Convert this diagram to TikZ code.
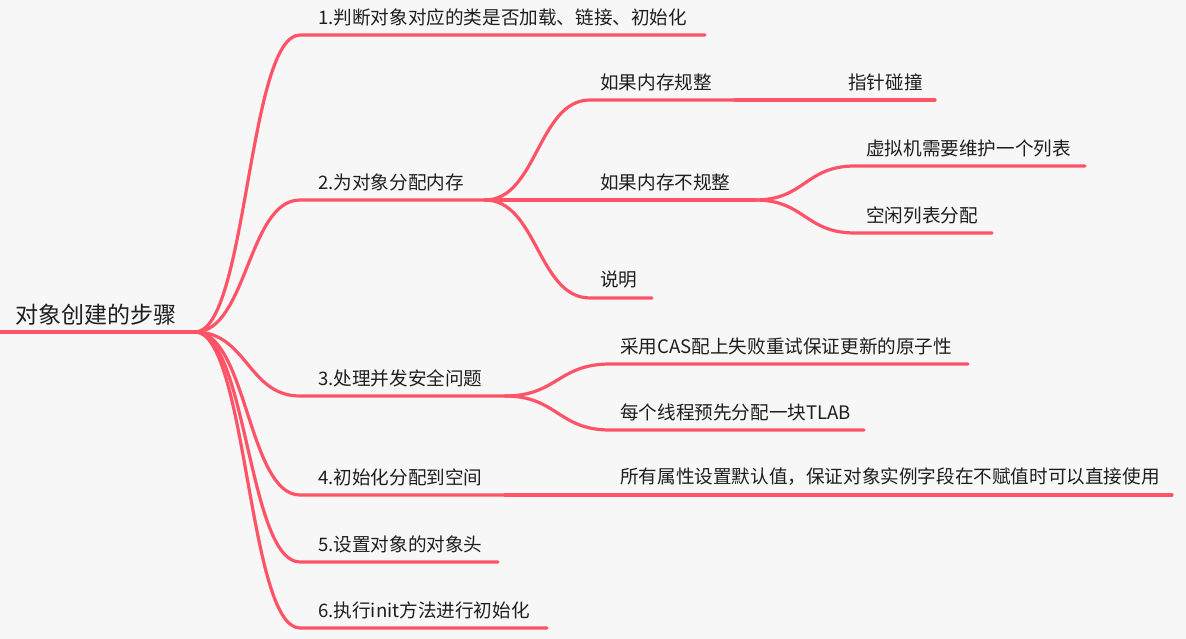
\documentclass[tikz,border=0pt]{standalone}
\usepackage{fontspec}
\usepackage{xcolor}
\usepackage{tikz}
\newfontfamily\cjk{Noto Sans CJK SC}
\definecolor{mapRed}{HTML}{FF5468}
\definecolor{mapInk}{HTML}{1E1E1E}
\definecolor{mapPaper}{HTML}{F7F7F7}
\tikzset{
  branch/.style={draw=mapRed, line width=3.2pt, line cap=round},
  topic/.style={anchor=west, inner sep=0pt, text=mapInk, font=\cjk\fontsize{18.6}{21}\selectfont},
  roottopic/.style={topic, font=\cjk\fontsize{23}{26}\selectfont}
}

\begin{document}
\begin{tikzpicture}[x=1pt, y=-1pt]
  % Paper
  \fill[mapPaper] (0,0) rectangle (1186,639);
  \useasboundingbox (0,0) rectangle (1186,639);

  % Root
  \node[roottopic] (root) at (15,315) {对象创建的步骤};
  \coordinate (rootL) at (0,332);
  \coordinate (rootR) at (195,332);
  \draw[branch, line width=4pt, line cap=butt] (rootL) -- (rootR);

  % Level 1
  \node[topic] (s1) at (318,17) {1.判断对象对应的类是否加载、链接、初始化};
  \coordinate (s1L) at (300,35);   \coordinate (s1R) at (705,35);
  \node[topic] (s2) at (318,182) {2.为对象分配内存};
  \coordinate (s2L) at (300,200);  \coordinate (s2R) at (485,200);
  \node[topic] (s3) at (318,378) {3.处理并发安全问题};
  \coordinate (s3L) at (300,396);  \coordinate (s3R) at (505,396);
  \node[topic] (s4) at (318,477) {4.初始化分配到空间};
  \coordinate (s4L) at (300,495);  \coordinate (s4R) at (505,495);
  \node[topic] (s5) at (318,544) {5.设置对象的对象头};
  \coordinate (s5L) at (300,562);  \coordinate (s5R) at (498,562);
  \node[topic] (s6) at (318,610) {6.执行init方法进行初始化};
  \coordinate (s6L) at (300,628);  \coordinate (s6R) at (547,628);

  \foreach \k in {1,...,6} {
    \draw[branch] (rootR) .. controls +(52,0) and +(-52,0) .. (s\k L) -- (s\k R);
  }

  % Level 2: memory allocation
  \node[topic] (m1) at (600,82) {如果内存规整};
  \coordinate (m1L) at (590,100);  \coordinate (m1R) at (735,100);
  \node[topic] (m2) at (600,182) {如果内存不规整};
  \coordinate (m2L) at (590,200);  \coordinate (m2R) at (755,200);
  \node[topic] (m3) at (600,280) {说明};
  \coordinate (m3L) at (590,298);  \coordinate (m3R) at (652,298);
  \foreach \k in {1,2,3} {
    \draw[branch] (s2R) .. controls +(52,0) and +(-52,0) .. (m\k L) -- (m\k R);
  }

  % Level 3
  \node[topic] (p1) at (848,82) {指针碰撞};
  \coordinate (p1L) at (838,100);  \coordinate (p1R) at (935,100);
  \draw[branch] (m1R) -- (p1L) -- (p1R);

  \node[topic] (f1) at (866,148) {虚拟机需要维护一个列表};
  \coordinate (f1L) at (855,166);  \coordinate (f1R) at (1085,166);
  \node[topic] (f2) at (866,215) {空闲列表分配};
  \coordinate (f2L) at (855,233);  \coordinate (f2R) at (992,233);
  \foreach \k in {1,2} {
    \draw[branch] (m2R) .. controls +(50,0) and +(-50,0) .. (f\k L) -- (f\k R);
  }

  % Level 2: concurrency
  \node[topic] (c1) at (620,346) {采用CAS配上失败重试保证更新的原子性};
  \coordinate (c1L) at (610,364);  \coordinate (c1R) at (968,364);
  \node[topic] (c2) at (620,412) {每个线程预先分配一块TLAB};
  \coordinate (c2L) at (610,430);  \coordinate (c2R) at (864,430);
  \foreach \k in {1,2} {
    \draw[branch] (s3R) .. controls +(52,0) and +(-52,0) .. (c\k L) -- (c\k R);
  }

  % Level 2: default values
  \node[topic] (d1) at (620,477) {所有属性设置默认值，保证对象实例字段在不赋值时可以直接使用};
  \coordinate (d1L) at (610,495);  \coordinate (d1R) at (1172,495);
  \draw[branch] (s4R) -- (d1L) -- (d1R);
\end{tikzpicture}
\end{document}
